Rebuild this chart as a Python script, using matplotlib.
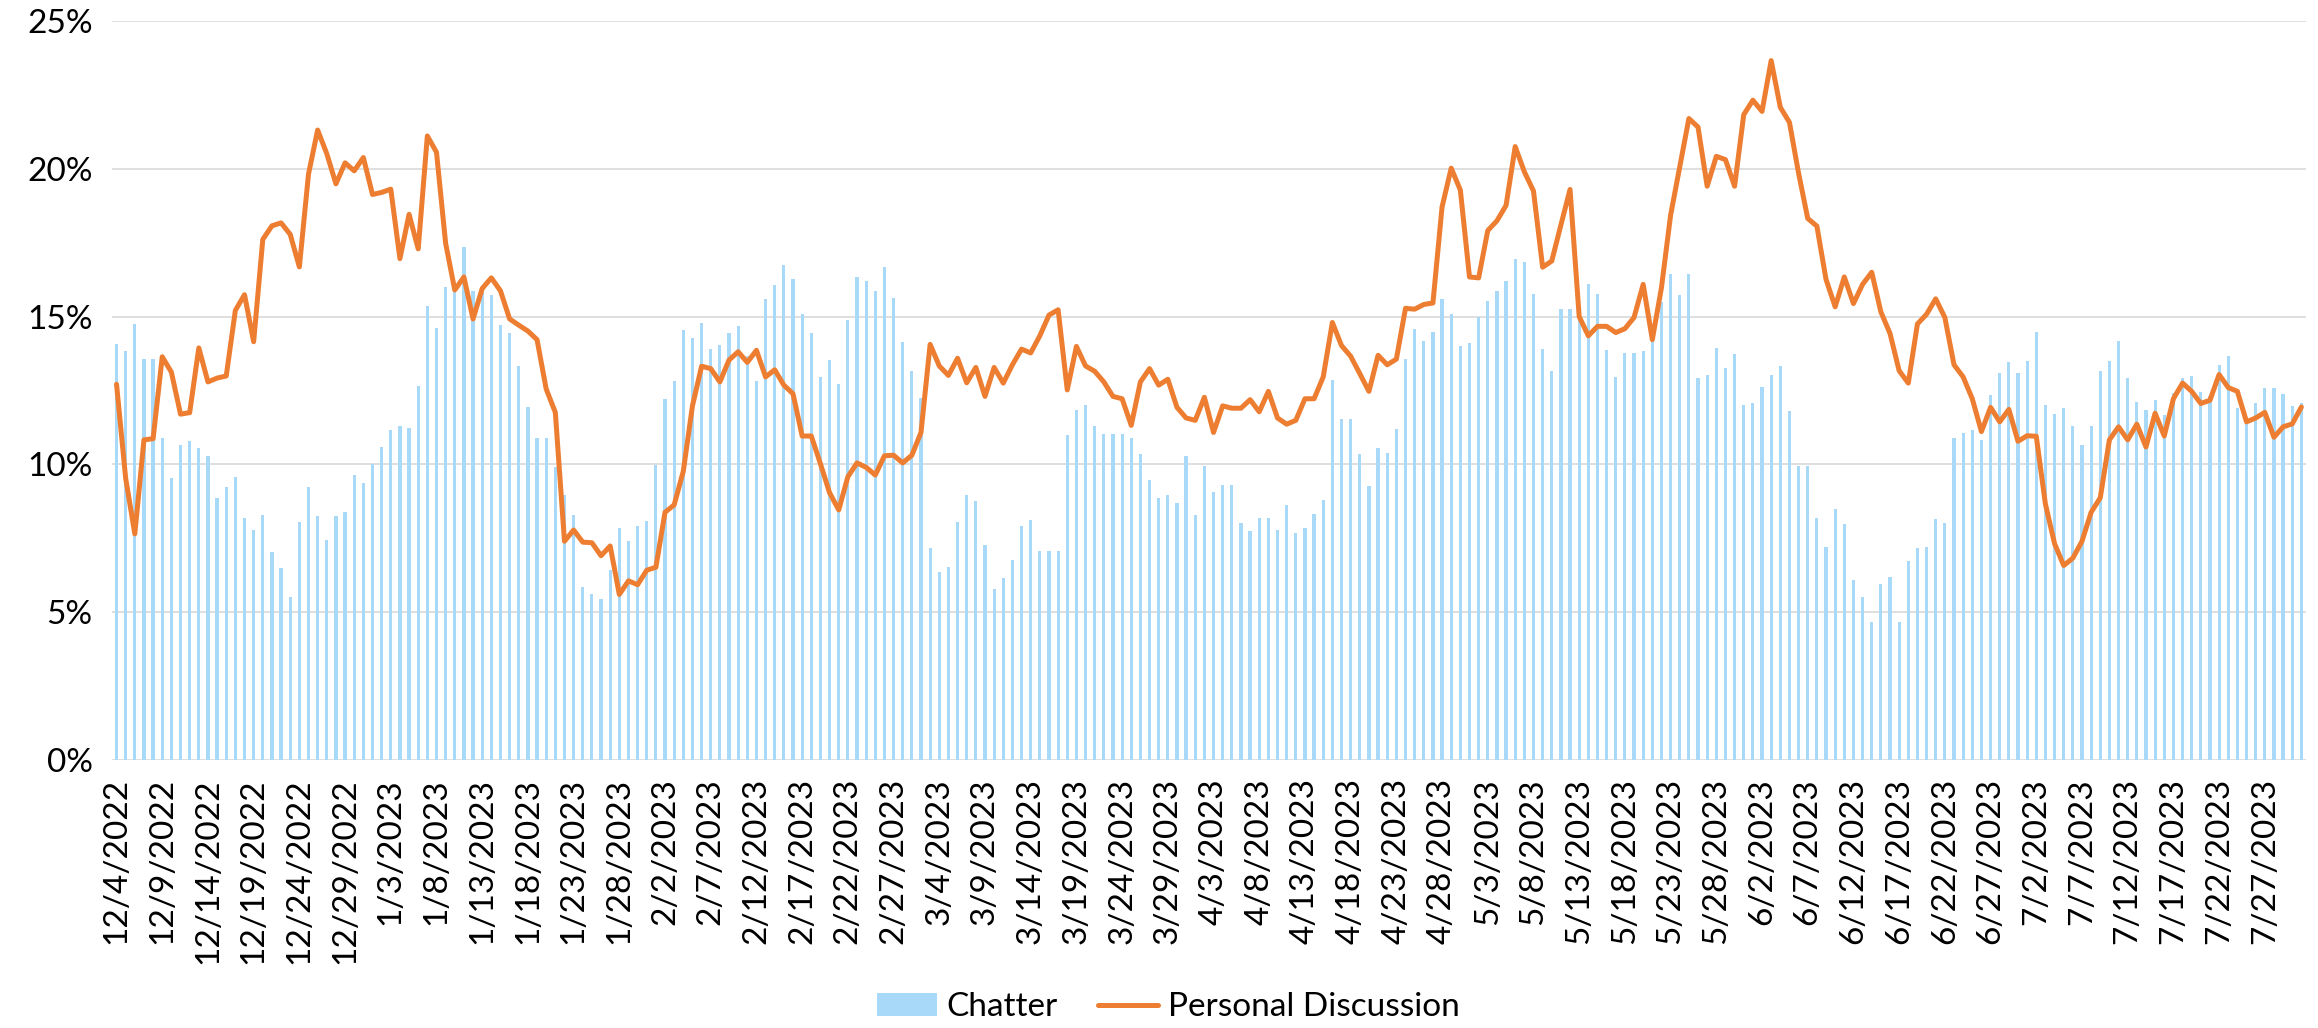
import numpy as np
import pandas as pd
import matplotlib
matplotlib.use("Agg")
import matplotlib.pyplot as plt

plt.rcParams['font.family'] = ['Lato', 'DejaVu Sans']

# daily values, 12/4/2022 .. 7/31/2023 (percent)
dates = pd.date_range("2022-12-04", periods=240, freq="D")

chatter = [
    14.07, 13.82, 14.75, 13.58, 13.58, 10.88, 9.53, 10.64, 10.80, 10.56,
    10.28, 8.87, 9.22, 9.56, 8.20, 7.79, 8.28, 7.03, 6.49, 5.51,
    8.04, 9.23, 8.24, 7.43, 8.24, 8.40, 9.64, 9.36, 10.02, 10.59,
    11.16, 11.29, 11.24, 12.66, 15.36, 14.62, 16.01, 15.85, 17.35, 15.87,
    15.85, 15.74, 14.71, 14.46, 13.32, 11.94, 10.88, 10.88, 9.90, 8.95,
    8.30, 5.85, 5.60, 5.44, 6.42, 7.86, 7.42, 7.92, 8.10, 9.97,
    12.22, 12.83, 14.56, 14.28, 14.79, 13.90, 14.05, 14.43, 14.67, 13.66,
    12.83, 15.60, 16.06, 16.76, 16.27, 15.10, 14.43, 12.96, 13.53, 12.71,
    14.87, 16.34, 16.21, 15.88, 16.68, 15.62, 14.15, 13.15, 12.25, 7.16,
    6.37, 6.54, 8.06, 8.95, 8.76, 7.27, 5.77, 6.14, 6.78, 7.92,
    8.12, 7.08, 7.08, 7.08, 10.98, 11.85, 12.01, 11.29, 11.03, 11.03,
    11.03, 10.88, 10.34, 9.48, 8.87, 8.97, 8.71, 10.29, 8.30, 9.93,
    9.07, 9.31, 9.31, 8.02, 7.76, 8.17, 8.17, 7.78, 8.63, 7.68,
    7.84, 8.33, 8.81, 12.84, 11.52, 11.52, 10.34, 9.28, 10.54, 10.38,
    11.19, 13.58, 14.58, 14.18, 14.48, 15.59, 15.10, 14.02, 14.12, 14.97,
    15.52, 15.85, 16.21, 16.96, 16.83, 15.77, 13.91, 13.15, 15.25, 15.26,
    15.00, 16.11, 15.77, 13.86, 12.97, 13.76, 13.76, 13.82, 14.30, 15.50,
    16.45, 15.74, 16.45, 12.91, 13.01, 13.94, 13.25, 13.73, 12.01, 12.06,
    12.61, 13.04, 13.33, 11.81, 9.93, 9.93, 8.19, 7.19, 8.50, 7.97,
    6.08, 5.52, 4.67, 5.95, 6.18, 4.67, 6.72, 7.16, 7.19, 8.15,
    8.01, 10.88, 11.06, 11.18, 10.83, 12.35, 13.09, 13.46, 13.09, 13.50,
    14.48, 12.01, 11.72, 11.91, 11.29, 10.64, 11.29, 13.17, 13.51, 14.18,
    12.91, 12.11, 11.85, 12.17, 11.68, 12.40, 12.92, 13.00, 12.45, 12.30,
    13.37, 13.66, 11.91, 11.60, 12.06, 12.58, 12.58, 12.39, 11.98, 12.06,
]

personal = [
    12.71, 9.53, 7.65, 10.83, 10.87, 13.64, 13.12, 11.70, 11.75, 13.94,
    12.79, 12.92, 12.99, 15.21, 15.74, 14.15, 17.61, 18.07, 18.17, 17.78,
    16.68, 19.82, 21.31, 20.51, 19.49, 20.20, 19.93, 20.38, 19.13, 19.20,
    19.31, 16.96, 18.46, 17.29, 21.11, 20.56, 17.48, 15.90, 16.34, 14.92,
    15.95, 16.31, 15.87, 14.92, 14.71, 14.51, 14.22, 12.55, 11.76, 7.40,
    7.78, 7.37, 7.35, 6.91, 7.24, 5.60, 6.06, 5.93, 6.42, 6.52,
    8.38, 8.63, 9.77, 11.98, 13.32, 13.24, 12.79, 13.53, 13.81, 13.45,
    13.86, 12.96, 13.20, 12.68, 12.39, 10.96, 10.96, 10.02, 9.04, 8.46,
    9.58, 10.05, 9.90, 9.64, 10.29, 10.31, 10.05, 10.31, 11.08, 14.06,
    13.33, 13.01, 13.59, 12.76, 13.28, 12.30, 13.28, 12.75, 13.37, 13.90,
    13.77, 14.35, 15.05, 15.23, 12.52, 13.99, 13.33, 13.15, 12.79, 12.30,
    12.22, 11.32, 12.79, 13.24, 12.68, 12.88, 11.93, 11.57, 11.49, 12.27,
    11.08, 11.98, 11.90, 11.90, 12.19, 11.78, 12.47, 11.57, 11.36, 11.49,
    12.22, 12.22, 12.96, 14.80, 14.02, 13.66, 13.07, 12.47, 13.69, 13.37,
    13.56, 15.28, 15.25, 15.41, 15.46, 18.71, 20.02, 19.28, 16.34, 16.31,
    17.91, 18.24, 18.76, 20.75, 19.90, 19.25, 16.67, 16.88, 18.10, 19.30,
    15.00, 14.35, 14.67, 14.67, 14.46, 14.59, 14.97, 16.09, 14.22, 15.98,
    18.43, 20.07, 21.70, 21.41, 19.41, 20.42, 20.31, 19.41, 21.83, 22.32,
    21.94, 23.66, 22.08, 21.57, 19.85, 18.32, 18.06, 16.26, 15.33, 16.34,
    15.44, 16.09, 16.50, 15.16, 14.43, 13.17, 12.75, 14.75, 15.08, 15.60,
    14.97, 13.37, 12.96, 12.22, 11.11, 11.93, 11.44, 11.86, 10.78, 10.97,
    10.95, 8.66, 7.32, 6.58, 6.83, 7.40, 8.38, 8.87, 10.83, 11.27,
    10.83, 11.36, 10.59, 11.73, 10.96, 12.22, 12.75, 12.47, 12.06, 12.17,
    13.04, 12.60, 12.47, 11.44, 11.57, 11.76, 10.92, 11.27, 11.37, 11.94,
]

tick_labels = [f"{d.month}/{d.day}/{d.year}" for d in dates[::5]]

fig = plt.figure(figsize=(23.18, 10.28), dpi=100)
ax = fig.add_axes([0.0483, 0.2607, 0.9465, 0.7189])

x = np.arange(len(dates))
bars = ax.bar(x, chatter, width=0.35, color='#A9D9F8', zorder=2, label='Chatter')
line, = ax.plot(x, personal, color='#ED7D31', lw=3.6, zorder=3,
                solid_joinstyle='round', solid_capstyle='round',
                label='Personal Discussion')

ax.set_xlim(-0.5, len(dates) - 0.5)
ax.set_ylim(0, 25)
ax.set_yticks(range(0, 26, 5))
ax.set_yticklabels([f"{v}%" for v in range(0, 26, 5)])
ax.set_xticks(x[::5])
ax.set_xticklabels(tick_labels, rotation=90)
ax.tick_params(axis='y', length=0, pad=14, labelsize=24)
ax.tick_params(axis='x', length=0, pad=13, labelsize=24)
ax.grid(axis='y', color='#D9D9D9', lw=1.2, zorder=0)
ax.set_axisbelow(True)
for s in ax.spines.values():
    s.set_visible(False)

fig.legend(handles=[bars, line], loc='center', bbox_to_anchor=(0.504, 0.02),
           ncol=2, frameon=False, fontsize=24, handlelength=1.8,
           columnspacing=1.2, handletextpad=0.3)

fig.savefig("out.png", dpi=100)
